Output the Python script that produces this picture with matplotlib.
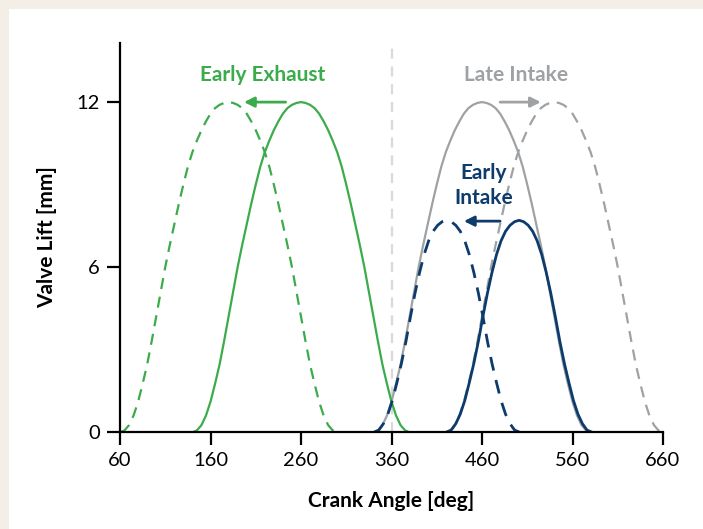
import matplotlib.pyplot as plt
from matplotlib.patches import Rectangle

plt.rcParams['font.family'] = ['Lato', 'DejaVu Sans']

# Exhaust cam (deg, mm)
exhaust_angle = [141, 145, 150, 155, 160, 165, 170, 175, 180, 185, 190, 195, 200,
                 205, 210, 215, 220, 225, 230, 235, 240, 245, 250, 255, 260,
                 265, 270, 275, 280, 285, 290, 295, 300, 305, 310, 315, 320,
                 325, 330, 335, 340, 345, 350, 355, 360, 365, 370, 375, 379]
exhaust_lift = [0, 0.06, 0.25, 0.6, 1.1, 1.75, 2.45, 3.3, 4.2, 5.1, 6.0, 6.8, 7.55,
                8.3, 9.0, 9.65, 10.18, 10.6, 10.98, 11.3, 11.58, 11.78, 11.9, 11.97, 12.0,
                11.97, 11.9, 11.78, 11.58, 11.3, 10.98, 10.6, 10.18, 9.65, 9.0, 8.3, 7.55,
                6.8, 6.0, 5.1, 4.2, 3.3, 2.45, 1.75, 1.1, 0.6, 0.25, 0.06, 0]
early_exhaust_angle = [61, 65, 70, 75, 80, 85, 90, 95, 100, 105, 110, 115, 120,
                       125, 130, 135, 140, 145, 150, 155, 160, 165, 170, 175, 180,
                       185, 190, 195, 200, 205, 210, 215, 220, 225, 230, 235, 240,
                       245, 250, 255, 260, 265, 270, 275, 280, 285, 290, 295, 299]

# Intake cam (same lift as exhaust)
intake_angle = [341, 345, 350, 355, 360, 365, 370, 375, 380, 385, 390, 395, 400,
                405, 410, 415, 420, 425, 430, 435, 440, 445, 450, 455, 460,
                465, 470, 475, 480, 485, 490, 495, 500, 505, 510, 515, 520,
                525, 530, 535, 540, 545, 550, 555, 560, 565, 570, 575, 579]
late_intake_angle = [421, 425, 430, 435, 440, 445, 450, 455, 460, 465, 470, 475, 480,
                     485, 490, 495, 500, 505, 510, 515, 520, 525, 530, 535, 540,
                     545, 550, 555, 560, 565, 570, 575, 580, 585, 590, 595, 600,
                     605, 610, 615, 620, 625, 630, 635, 640, 645, 650, 655, 659]

# Short intake cam
short_angle = [421, 426, 431, 436, 441, 446, 451, 456, 461, 466, 471, 476, 481,
               486, 491, 496, 501, 506, 511, 516, 521, 526, 531, 536, 541,
               546, 551, 556, 561, 566, 571, 576, 581]
short_lift = [0, 0.07, 0.3, 0.65, 1.15, 1.8, 2.5, 3.3, 4.2, 5.05, 5.8, 6.45, 6.95,
              7.3, 7.52, 7.65, 7.7, 7.65, 7.52, 7.3, 6.95, 6.45, 5.8, 5.05, 4.2,
              3.3, 2.5, 1.8, 1.15, 0.65, 0.3, 0.07, 0]
early_short_angle = [341, 346, 351, 356, 361, 366, 371, 376, 381, 386, 391, 396, 401,
                     406, 411, 416, 421, 426, 431, 436, 441, 446, 451, 456, 461,
                     466, 471, 476, 481, 486, 491, 496, 501]

x_ticks = [60, 160, 260, 360, 460, 560, 660]
y_ticks = [0, 6, 12]

green = '#3bab4b'
grey = '#9ea2a5'
navy = '#0d3b6c'

fig = plt.figure(figsize=[7.03, 5.29], dpi=100, facecolor='#f3efe7')
# white panel
panel = Rectangle((9 / 703, 0), 1, 1 - 9 / 529, transform=fig.transFigure,
                  facecolor='white', edgecolor='none')
panel.set_zorder(-10)
fig.add_artist(panel)
ax = fig.add_axes([120 / 703, 97 / 529, 543 / 703, 389 / 529])
ax.set_facecolor('none')

ax.axvline(360, color='#d9d9d9', lw=1.6, dashes=(4.5, 3.5), zorder=1)

dash = (5, 3.5)
ax.plot(intake_angle, exhaust_lift, color=grey, lw=1.6, zorder=2)
ax.plot(late_intake_angle, exhaust_lift, color=grey, lw=1.6, dashes=dash, zorder=2)
ax.plot(exhaust_angle, exhaust_lift, color=green, lw=1.6, zorder=3)
ax.plot(early_exhaust_angle, exhaust_lift, color=green, lw=1.6, dashes=dash, zorder=3)
ax.plot(short_angle, short_lift, color=navy, lw=2.0, zorder=4)
ax.plot(early_short_angle, short_lift, color=navy, lw=2.0, dashes=dash, zorder=4)

# labels and shift arrows
ax.text(218, 12.98, 'Early Exhaust', color=green, fontsize=15, fontweight='bold',
        ha='center', va='center')
ax.annotate('', xy=(197, 12.0), xytext=(243, 12.0),
            arrowprops=dict(arrowstyle='-|>', color=green, lw=2, mutation_scale=15,
                            shrinkA=0, shrinkB=0))
ax.text(498, 12.98, 'Late Intake', color=grey, fontsize=15, fontweight='bold',
        ha='center', va='center')
ax.annotate('', xy=(525, 12.0), xytext=(480, 12.0),
            arrowprops=dict(arrowstyle='-|>', color=grey, lw=2, mutation_scale=15,
                            shrinkA=0, shrinkB=0))
ax.text(462, 8.96, 'Early\nIntake', color=navy, fontsize=15, fontweight='bold',
        ha='center', va='center', linespacing=1.3)
ax.annotate('', xy=(440, 7.67), xytext=(480, 7.67),
            arrowprops=dict(arrowstyle='-|>', color=navy, lw=2, mutation_scale=15,
                            shrinkA=0, shrinkB=0))

ax.set_xlim(60, 660)
ax.set_ylim(0, 14.15)
ax.set_xticks(x_ticks)
ax.set_yticks(y_ticks)
ax.spines['top'].set_visible(False)
ax.spines['right'].set_visible(False)
for s in ['left', 'bottom']:
    ax.spines[s].set_linewidth(1.6)
    ax.spines[s].set_zorder(5)
ax.tick_params(length=9.5, width=1.6, labelsize=14.5, pad=5)

ax.set_xlabel('Crank Angle [deg]', fontsize=15, fontweight='bold', labelpad=16)
ax.set_ylabel('Valve Lift [mm]', fontsize=15, fontweight='bold', labelpad=14)

plt.savefig('out.png', dpi=100, facecolor=fig.get_facecolor())
